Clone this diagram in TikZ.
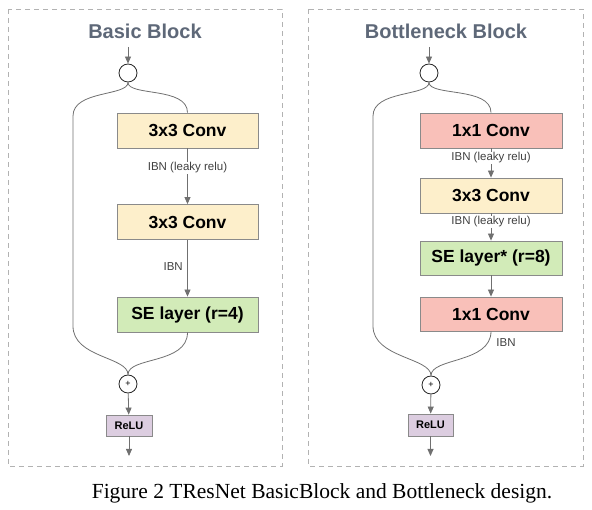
\documentclass[tikz,border=0pt]{standalone}
\usepackage{fontspec}
\setmainfont{Liberation Serif}
\setsansfont{Liberation Sans}
\usetikzlibrary{arrows.meta}
\definecolor{convyellow}{HTML}{FDEFCB}
\definecolor{convpink}{HTML}{F9C0B9}
\definecolor{segreen}{HTML}{D2EBB8}
\definecolor{relupurple}{HTML}{DCCDE0}
\definecolor{edgegray}{HTML}{8A8A8A}
\definecolor{linegray}{HTML}{707070}
\definecolor{titlegray}{HTML}{5E6878}
\begin{document}
\begin{tikzpicture}[x=1pt,y=-1pt,
  frame/.style={draw=gray!60,dash pattern=on 5pt off 4pt,line width=0.8pt},
  title/.style={font=\sffamily\bfseries\fontsize{20}{22}\selectfont,text=titlegray},
  layer/.style={draw=edgegray,line width=0.8pt,minimum width=141pt,minimum height=35pt,
    inner sep=0pt,font=\sffamily\bfseries\fontsize{17.5}{20}\selectfont},
  relubox/.style={draw=edgegray,fill=relupurple,line width=0.8pt,minimum width=46pt,
    minimum height=21pt,inner sep=0pt,font=\sffamily\bfseries\fontsize{11}{13}\selectfont},
  junction/.style={circle,draw=black!85,line width=0.8pt,minimum size=18pt,inner sep=0pt,
    font=\sffamily\fontsize{9}{10}\selectfont},
  lbl/.style={font=\sffamily\fontsize{11.5}{13}\selectfont,text=black!75,inner sep=1pt},
  wire/.style={draw=linegray,line width=0.8pt},
  flow/.style={wire,-{Triangle[length=7pt,width=6pt]}}]
 \useasboundingbox (0,0) rectangle (592,510);
 % frames and titles
 \draw[frame] (8,9) rectangle (282,466);
 \draw[frame] (308,9) rectangle (583,466);
 \node[title] (basictitle) at (145,31) {Basic Block};
 \node[title] (bottletitle) at (446,31) {Bottleneck Block};

 % basic block
 \coordinate (in1) at (128,47);
 \node[junction] (split1) at (128,73) {};
 \node[layer,fill=convyellow] (b1conva) at (187.5,130.5) {3x3 Conv};
 \node[layer,fill=convyellow] (b1convb) at (187.5,222) {3x3 Conv};
 \node[layer,fill=segreen] (b1se) at (187.5,314.5) {SE layer (r=4)};
 \node[junction] (add1) at (128,384) {+};
 \node[relubox] (relu1) at (129,425.5) {ReLU};
 \coordinate (out1) at (129,456);
 \coordinate (skip1a) at (73,116);
 \coordinate (skip1b) at (73,326);
 \draw[flow] (in1) -- (split1);
 \draw[wire] (split1.south) .. controls +(0,14) and +(0,-26) .. (skip1a) -- (skip1b)
   .. controls +(0,32) and +(0,-18) .. (add1.north);
 \draw[wire] (split1.south) .. controls +(0,14) and +(0,-26) .. (b1conva.north);
 \draw[flow] (b1conva) -- (b1convb);
 \draw[flow] (b1convb) -- (b1se);
 \draw[wire] (b1se.south) .. controls +(0,32) and +(0,-18) .. (add1.north);
 \draw[flow] (add1) -- (relu1);
 \draw[flow] (relu1) -- (out1);
 \node[lbl,fill=white] (b1ibna) at (187.5,168) {IBN (leaky relu)};
 \node[lbl,anchor=east] (b1ibnb) at (184,267) {IBN};

 % bottleneck block
 \coordinate (in2) at (429,47);
 \node[junction] (split2) at (429,73) {};
 \node[layer,fill=convpink,minimum width=142pt] (b2conva) at (491,130.5) {1x1 Conv};
 \node[layer,fill=convyellow,minimum width=142pt] (b2convb) at (491,195.5) {3x3 Conv};
 \node[layer,fill=segreen,minimum width=142pt,minimum height=34pt] (b2se) at (491,258) {SE layer* (r=8)};
 \node[layer,fill=convpink,minimum width=142pt,minimum height=34pt] (b2convc) at (491,314) {1x1 Conv};
 \node[junction] (add2) at (431,385) {+};
 \node[relubox,minimum width=45pt,minimum height=22pt] (relu2) at (430.5,425) {ReLU};
 \coordinate (out2) at (430.5,456);
 \coordinate (skip2a) at (373,116);
 \coordinate (skip2b) at (373,326);
 \draw[flow] (in2) -- (split2);
 \draw[wire] (split2.south) .. controls +(0,14) and +(0,-26) .. (skip2a) -- (skip2b)
   .. controls +(0,32) and +(0,-18) .. (add2.north);
 \draw[wire] (split2.south) .. controls +(0,14) and +(0,-26) .. (b2conva.north);
 \draw[flow] (b2conva) -- (b2convb);
 \draw[flow] (b2convb) -- (b2se);
 \draw[flow] (b2se) -- (b2convc);
 \draw[wire] (b2convc.south) .. controls +(0,32) and +(0,-18) .. (add2.north);
 \draw[flow] (add2) -- (relu2);
 \draw[flow] (relu2) -- (out2);
 \node[lbl,fill=white] (b2ibna) at (491,158) {IBN (leaky relu)};
 \node[lbl,fill=white] (b2ibnb) at (491,222) {IBN (leaky relu)};
 \node[lbl] (b2ibnc) at (506,343) {IBN};

 % caption
 \node[font=\fontsize{21.5}{24}\selectfont] (caption) at (322,493)
   {Figure 2 TResNet BasicBlock and Bottleneck design.};
\end{tikzpicture}
\end{document}
